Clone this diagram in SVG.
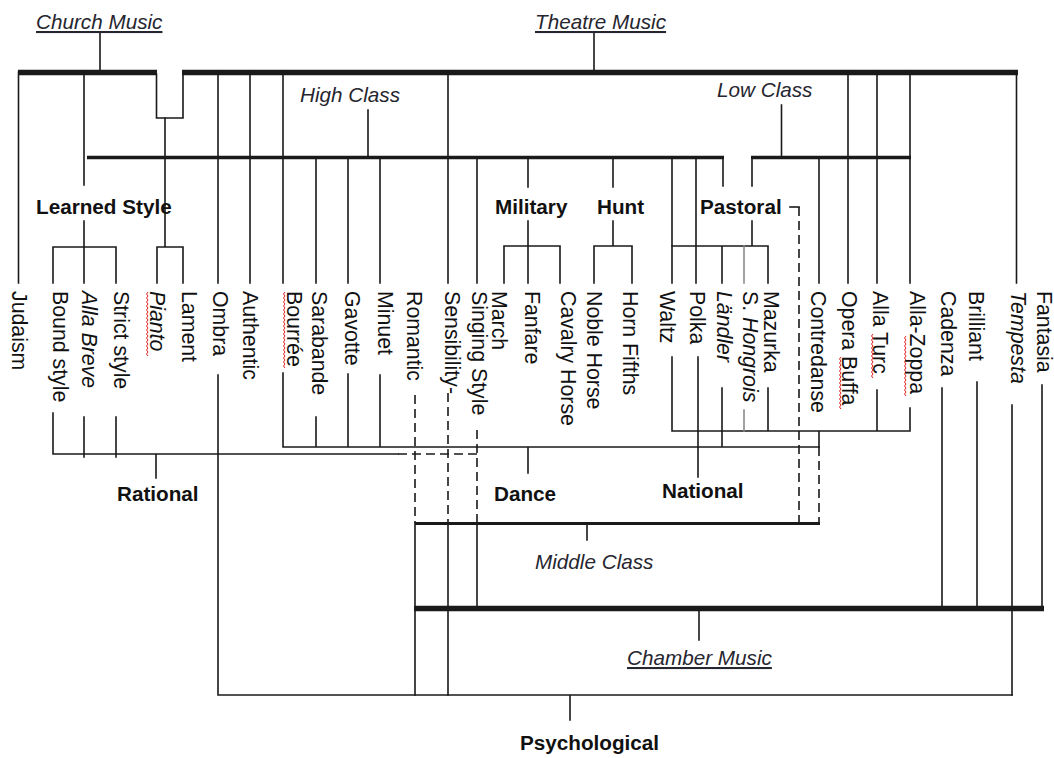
<svg xmlns="http://www.w3.org/2000/svg" width="1054" height="758" viewBox="0 0 1054 758">
<style>
  .ln { stroke: #1a1a1a; stroke-width: 1.6; fill: none; stroke-linecap: square; }
  .gr { stroke: #8a8a8a; }
  .ds { stroke-dasharray: 9 5; stroke-linecap: butt; }
  .b5 { stroke-width: 5.5; stroke-linecap: butt; }
  .b3 { stroke-width: 3.5; stroke-linecap: butt; }
  .sq { stroke: #e02020; stroke-width: 1; fill: none; }
  text { font-family: "Liberation Sans", Arial, sans-serif; fill: #111; }
  .v { font-size: 21.3px; }
  .h { font-size: 20.7px; font-weight: bold; }
  .i { font-size: 20.7px; font-style: italic; fill: #262630; }
  .u { text-decoration: underline; }
  .it { font-style: italic; }
</style>

<!-- connectors -->
<g id="connectors">
  <!-- Church / Theatre music spine -->
  <path class="ln b5" d="M18,72.5 H157 M182,72.5 H1018"/>
  <path class="ln" d="M100,33 V72 M594,33 V72"/>
  <path class="ln" d="M156.5,74 V118 H183 V74"/>
  <!-- drops from the spine -->
  <path class="ln" d="M18.5,72 V283 M84,72 V185 M218,72 V283 M250,72 V283 M283,72 V283 M448,72 V283 M848,72 V283 M877,72 V283 M910,72 V283 M1016.5,72 V283"/>
  <!-- Pianto / Lament -->
  <path class="ln" d="M165,118 V247 M157,247 H183 M157,247 V283 M183,247 V283"/>
  <!-- Learned style -->
  <path class="ln" d="M84,221 V247 M53,247 H116 M53,247 V283 M84,247 V283 M116,247 V283"/>
  <!-- High class bar -->
  <path class="ln b3" d="M87,157.5 H724"/>
  <path class="ln" d="M368,110 V157 M723,157 V186"/>
  <path class="ln" d="M316,157 V283 M348,157 V283 M380,157 V283 M477,157 V283 M672,157 V283 M696,157 V283"/>
  <path class="ln" d="M528,157 V187 M613,157 V187"/>
  <!-- Low class bar -->
  <path class="ln b3" d="M751,157.5 H911"/>
  <path class="ln" d="M781.5,105 V157 M752,157 V186 M819,157 V283"/>
  <!-- Military -->
  <path class="ln" d="M528,221 V246 M504,246 H560 M504,246 V283 M528,246 V283 M560,246 V283"/>
  <!-- Hunt -->
  <path class="ln" d="M613,221 V246 M594,246 H632 M594,246 V283 M632,246 V283"/>
  <!-- Pastoral -->
  <path class="ln" d="M752,221 V246 M672,246 H768 M722,246 V283 M768,246 V283"/>
  <path class="ln gr" d="M744,246 V283"/>
  <path class="ln" d="M790,207 H799"/>
  <path class="ln ds" d="M799,207 V523"/>

  <!-- Rational -->
  <path class="ln" d="M53,413 V454 M84,417 V457 M116,417 V457 M53,454 H398 M156,454 V478"/>
  <path class="ln ds" d="M398,454 H481"/>
  <!-- Dance -->
  <path class="ln" d="M283,373 V447 M316,417 V447 M348,374 V447 M380,375 V447 M283,447 H819 M528,447 V473 M722,388 V447"/>
  <!-- National -->
  <path class="ln" d="M672,357 V431 H910 M698,357 V477 M768,388 V431 M877,390 V431 M910,408 V431 M819,431 V447"/>
  <path class="ln gr" d="M744,410 V431"/>
  <!-- Middle class -->
  <path class="ln ds" d="M415,395 V523 M448,393 V523 M477,430 V523 M819,447 V523"/>
  <path class="ln" d="M415,523 V695 M448,523 V695 M477,523 V608 M587,523 V540"/>
  <path class="ln" d="M415,523.5 H820" style="stroke-width:3.2;stroke-linecap:butt"/>
  <!-- Chamber music -->
  <path class="ln" d="M942,388 V608 M977,382 V608 M1042,385 V608 M1012,405 V695 M699,608 V640"/>
  <path class="ln b5" d="M414,608.5 H1044"/>
  <!-- Psychological -->
  <path class="ln" d="M218,375 V695 H1012 M570,695 V720"/>
</g>

<!-- spelling marks -->
<g id="spell-marks">
  <path class="sq" d="M148,292 l-1.5,2 l1.5,2 l-1.5,2 l1.5,2 l-1.5,2 l1.5,2 l-1.5,2 l1.5,2 l-1.5,2 l1.5,2 l-1.5,2 l1.5,2 l-1.5,2 l1.5,2 l-1.5,2 l1.5,2 l-1.5,2 l1.5,2 l-1.5,2 l1.5,2 l-1.5,2 l1.5,2 l-1.5,2 l1.5,2 l-1.5,2 l1.5,2 l-1.5,2 l1.5,2 l-1.5,2 l1.5,2 l-1.5,2 l1.5,2"/>
  <path class="sq" d="M285,292 l-1.5,2 l1.5,2 l-1.5,2 l1.5,2 l-1.5,2 l1.5,2 l-1.5,2 l1.5,2 l-1.5,2 l1.5,2 l-1.5,2 l1.5,2 l-1.5,2 l1.5,2 l-1.5,2 l1.5,2 l-1.5,2 l1.5,2 l-1.5,2 l1.5,2 l-1.5,2 l1.5,2 l-1.5,2 l1.5,2 l-1.5,2 l1.5,2 l-1.5,2 l1.5,2 l-1.5,2 l1.5,2 l-1.5,2 l1.5,2 l-1.5,2 l1.5,2 l-1.5,2 l1.5,2 l-1.5,2 l1.5,2"/>
  <path class="sq" d="M841,357 l-1.5,2 l1.5,2 l-1.5,2 l1.5,2 l-1.5,2 l1.5,2 l-1.5,2 l1.5,2 l-1.5,2 l1.5,2 l-1.5,2 l1.5,2 l-1.5,2 l1.5,2 l-1.5,2 l1.5,2 l-1.5,2 l1.5,2 l-1.5,2 l1.5,2 l-1.5,2 l1.5,2 l-1.5,2 l1.5,2 l-1.5,2 l1.5,2"/>
  <path class="sq" d="M873,334 l-1.5,2 l1.5,2 l-1.5,2 l1.5,2 l-1.5,2 l1.5,2 l-1.5,2 l1.5,2 l-1.5,2 l1.5,2 l-1.5,2 l1.5,2 l-1.5,2 l1.5,2 l-1.5,2 l1.5,2 l-1.5,2 l1.5,2 l-1.5,2 l1.5,2 l-1.5,2 l1.5,2"/>
  <path class="sq" d="M906,336 l-1.5,2 l1.5,2 l-1.5,2 l1.5,2 l-1.5,2 l1.5,2 l-1.5,2 l1.5,2 l-1.5,2 l1.5,2 l-1.5,2 l1.5,2 l-1.5,2 l1.5,2 l-1.5,2 l1.5,2 l-1.5,2 l1.5,2 l-1.5,2 l1.5,2 l-1.5,2 l1.5,2 l-1.5,2 l1.5,2 l-1.5,2 l1.5,2 l-1.5,2 l1.5,2 l-1.5,2 l1.5,2"/>
</g>

<!-- group headings -->
<g id="church-music"><text class="i u" x="36" y="29">Church Music</text></g>
<g id="theatre-music"><text class="i u" x="535" y="29">Theatre Music</text></g>
<g id="high-class"><text class="i" x="300" y="102">High Class</text></g>
<g id="low-class"><text class="i" x="717" y="97">Low Class</text></g>
<g id="learned-style"><text class="h" x="36" y="214">Learned Style</text></g>
<g id="military"><text class="h" x="495" y="214">Military</text></g>
<g id="hunt"><text class="h" x="597" y="214">Hunt</text></g>
<g id="pastoral"><text class="h" x="700" y="214">Pastoral</text></g>
<g id="rational"><text class="h" x="117" y="501">Rational</text></g>
<g id="dance"><text class="h" x="494" y="501">Dance</text></g>
<g id="national"><text class="h" x="662" y="498">National</text></g>
<g id="middle-class"><text class="i" x="535" y="569">Middle Class</text></g>
<g id="chamber-music"><text class="i u" x="627" y="665">Chamber Music</text></g>
<g id="psychological"><text class="h" x="520" y="750">Psychological</text></g>

<!-- topics (vertical labels) -->
<g id="judaism"><text class="v" transform="translate(12,291) rotate(90)">Judaism</text></g>
<g id="bound-style"><text class="v" transform="translate(53,291) rotate(90)">Bound style</text></g>
<g id="alla-breve"><text class="v it" transform="translate(82,291) rotate(90)">Alla Breve</text></g>
<g id="strict-style"><text class="v" transform="translate(114,291) rotate(90)">Strict style</text></g>
<g id="pianto"><text class="v it" transform="translate(150,291) rotate(90)">Pianto</text></g>
<g id="lament"><text class="v" transform="translate(182,291) rotate(90)">Lament</text></g>
<g id="ombra"><text class="v" transform="translate(213,291) rotate(90)">Ombra</text></g>
<g id="authentic"><text class="v" transform="translate(243,291) rotate(90)">Authentic</text></g>
<g id="bourree"><text class="v" transform="translate(287,291) rotate(90)">Bourrée</text></g>
<g id="sarabande"><text class="v" transform="translate(312,291) rotate(90)">Sarabande</text></g>
<g id="gavotte"><text class="v" transform="translate(345,291) rotate(90)">Gavotte</text></g>
<g id="minuet"><text class="v" transform="translate(378,291) rotate(90)">Minuet</text></g>
<g id="romantic"><text class="v" transform="translate(407,291) rotate(90)">Romantic</text></g>
<g id="sensibility"><text class="v" transform="translate(445,291) rotate(90)">Sensibility-</text></g>
<g id="singing-style"><text class="v" transform="translate(472,291) rotate(90)">Singing Style</text></g>
<g id="march"><text class="v" transform="translate(492,291) rotate(90)">March</text></g>
<g id="fanfare"><text class="v" transform="translate(525,291) rotate(90)">Fanfare</text></g>
<g id="cavalry-horse"><text class="v" transform="translate(561,291) rotate(90)">Cavalry Horse</text></g>
<g id="noble-horse"><text class="v" transform="translate(587,291) rotate(90)">Noble Horse</text></g>
<g id="horn-fifths"><text class="v" transform="translate(623,291) rotate(90)">Horn Fifths</text></g>
<g id="waltz"><text class="v" transform="translate(660,291) rotate(90)">Waltz</text></g>
<g id="polka"><text class="v" transform="translate(690,291) rotate(90)">Polka</text></g>
<g id="landler"><text class="v it" transform="translate(717,291) rotate(90)">Ländler</text></g>
<g id="s-hongrois"><text class="v" transform="translate(743,291) rotate(90)">S. <tspan class="it">Hongrois</tspan></text></g>
<g id="mazurka"><text class="v" transform="translate(764,291) rotate(90)">Mazurka</text></g>
<g id="contredanse"><text class="v" transform="translate(811,291) rotate(90)">Contredanse</text></g>
<g id="opera-buffa"><text class="v" transform="translate(842,291) rotate(90)">Opera Buffa</text></g>
<g id="alla-turc"><text class="v" transform="translate(873,291) rotate(90)">Alla Turc</text></g>
<g id="alla-zoppa"><text class="v" transform="translate(910,291) rotate(90)">Alla-Zoppa</text></g>
<g id="cadenza"><text class="v" transform="translate(941,291) rotate(90)">Cadenza</text></g>
<g id="brilliant"><text class="v" transform="translate(969,291) rotate(90)">Brilliant</text></g>
<g id="tempesta"><text class="v it" transform="translate(1011,291) rotate(90)">Tempesta</text></g>
<g id="fantasia"><text class="v" transform="translate(1037,291) rotate(90)">Fantasia</text></g>
</svg>
